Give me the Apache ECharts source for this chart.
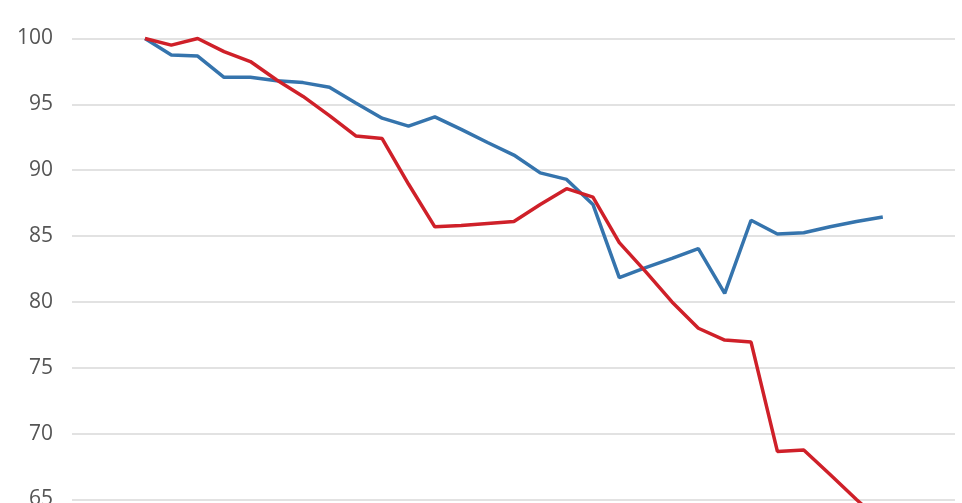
<!DOCTYPE html>
<html>
<head>
<meta charset="utf-8">
<script src="https://cdn.jsdelivr.net/npm/echarts@6/dist/echarts.min.js"></script>
<style>
html,body{margin:0;padding:0;background:#fff;overflow:hidden;}
#chart{width:962px;height:600px;}
</style>
</head>
<body>
<div id="chart"></div>
<script>
var periods = [0,1,2,3,4,5,6,7,8,9,10,11,12,13,14,15,16,17,18,19,20,21,22,23,24,25,26,27,28];
var blueValues = [100, 98.75, 98.67, 97.05, 97.05, 96.8, 96.65, 96.3, 95.1, 93.95, 93.35, 94.05, 93.1, 92.1, 91.15, 89.8, 89.3, 87.4, 81.85, 82.6, 83.3, 84.05, 80.65, 86.2, 85.15, 85.25, 85.7, 86.1, 86.45];
var redValues = [100, 99.5, 100, 99.0, 98.25, 96.85, 95.6, 94.15, 92.6, 92.4, 88.95, 85.7, 85.8, 85.95, 86.1, 87.4, 88.6, 87.95, 84.5, 82.3, 80.0, 78.0, 77.1, 76.95, 68.65, 68.75, 66.9, 65.0, 63.2];
var yTicks = [60, 65, 70, 75, 80, 85, 90, 95, 100];

function pairs(vals){ return periods.map(function(p,i){ return [p, vals[i]]; }); }

var chart = echarts.init(document.getElementById('chart'), null, {renderer:'canvas'});
chart.setOption({
  animation: false,
  grid: {left: 72, right: 7, top: 38.5, bottom: 34.7, containLabel: false},
  xAxis: {
    type: 'value', min: -2.77, max: 30.74, show: false,
    splitLine: {show: false}
  },
  yAxis: {
    type: 'value', min: yTicks[0], max: yTicks[yTicks.length-1], interval: 5,
    axisLine: {show: false}, axisTick: {show: false},
    axisLabel: {color: '#555', fontSize: 21, fontFamily: 'Open Sans', margin: 19},
    splitLine: {lineStyle: {color: '#e2e2e2', width: 2}}
  },
  series: [
    {type: 'line', name: 'Blue', data: pairs(blueValues), showSymbol: false, clip: false,
     lineStyle: {color: '#3574ad', width: 3.5}, itemStyle: {color: '#3574ad'}},
    {type: 'line', name: 'Red', data: pairs(redValues), showSymbol: false, clip: false,
     lineStyle: {color: '#cf2029', width: 3.5}, itemStyle: {color: '#cf2029'}}
  ]
});
</script>
</body>
</html>
